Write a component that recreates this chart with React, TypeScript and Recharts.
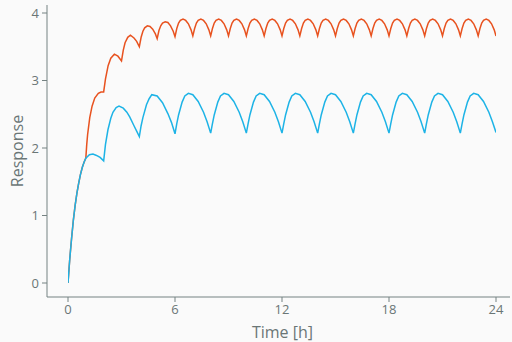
import React from 'react';
import { LineChart, Line, XAxis, YAxis } from 'recharts';

// Time ticks (hours) and response ticks
const timeTicks = [0, 6, 12, 18, 24];
const responseTicks = [0, 1, 2, 3, 4];

// Series dosed every hour (orange): [time h, response]
const hourlyDose: [number, number][] = [
  [0, 0], [0.1, 0.36], [0.2, 0.66], [0.3, 0.93], [0.4, 1.15], [0.5, 1.33], [0.6, 1.48], [0.7, 1.61], [0.8, 1.71], [0.9, 1.79], [1.0, 1.85],
  [1.05, 2.05], [1.1, 2.2], [1.22, 2.45], [1.35, 2.62], [1.5, 2.74], [1.7, 2.81], [1.85, 2.83], [2.0, 2.83],
  [2.1, 3.02], [2.25, 3.22], [2.4, 3.33], [2.6, 3.39], [2.8, 3.36], [3.0, 3.29],
  [3.1, 3.45], [3.2, 3.56], [3.35, 3.64], [3.5, 3.67], [3.7, 3.63], [3.85, 3.58], [4.0, 3.5],
  [4.1, 3.64], [4.2, 3.73], [4.3, 3.78], [4.45, 3.81], [4.6, 3.8], [4.75, 3.76], [4.9, 3.69], [5.0, 3.62],
  [5.1, 3.74], [5.2, 3.81], [5.3, 3.85], [5.45, 3.87], [5.6, 3.86], [5.75, 3.81], [5.9, 3.73], [6.0, 3.65],
  [6.1, 3.77], [6.2, 3.85], [6.3, 3.89], [6.45, 3.91], [6.6, 3.89], [6.75, 3.84], [6.9, 3.75], [7.0, 3.66],
  [7.1, 3.77], [7.2, 3.85], [7.3, 3.89], [7.45, 3.91], [7.6, 3.89], [7.75, 3.84], [7.9, 3.75], [8.0, 3.66],
  [8.1, 3.77], [8.2, 3.85], [8.3, 3.89], [8.45, 3.91], [8.6, 3.89], [8.75, 3.84], [8.9, 3.75], [9.0, 3.66],
  [9.1, 3.77], [9.2, 3.85], [9.3, 3.89], [9.45, 3.91], [9.6, 3.89], [9.75, 3.84], [9.9, 3.75], [10.0, 3.66],
  [10.1, 3.77], [10.2, 3.85], [10.3, 3.89], [10.45, 3.91], [10.6, 3.89], [10.75, 3.84], [10.9, 3.75], [11.0, 3.66],
  [11.1, 3.77], [11.2, 3.85], [11.3, 3.89], [11.45, 3.91], [11.6, 3.89], [11.75, 3.84], [11.9, 3.75], [12.0, 3.66],
  [12.1, 3.77], [12.2, 3.85], [12.3, 3.89], [12.45, 3.91], [12.6, 3.89], [12.75, 3.84], [12.9, 3.75], [13.0, 3.66],
  [13.1, 3.77], [13.2, 3.85], [13.3, 3.89], [13.45, 3.91], [13.6, 3.89], [13.75, 3.84], [13.9, 3.75], [14.0, 3.66],
  [14.1, 3.77], [14.2, 3.85], [14.3, 3.89], [14.45, 3.91], [14.6, 3.89], [14.75, 3.84], [14.9, 3.75], [15.0, 3.66],
  [15.1, 3.77], [15.2, 3.85], [15.3, 3.89], [15.45, 3.91], [15.6, 3.89], [15.75, 3.84], [15.9, 3.75], [16.0, 3.66],
  [16.1, 3.77], [16.2, 3.85], [16.3, 3.89], [16.45, 3.91], [16.6, 3.89], [16.75, 3.84], [16.9, 3.75], [17.0, 3.66],
  [17.1, 3.77], [17.2, 3.85], [17.3, 3.89], [17.45, 3.91], [17.6, 3.89], [17.75, 3.84], [17.9, 3.75], [18.0, 3.66],
  [18.1, 3.77], [18.2, 3.85], [18.3, 3.89], [18.45, 3.91], [18.6, 3.89], [18.75, 3.84], [18.9, 3.75], [19.0, 3.66],
  [19.1, 3.77], [19.2, 3.85], [19.3, 3.89], [19.45, 3.91], [19.6, 3.89], [19.75, 3.84], [19.9, 3.75], [20.0, 3.66],
  [20.1, 3.77], [20.2, 3.85], [20.3, 3.89], [20.45, 3.91], [20.6, 3.89], [20.75, 3.84], [20.9, 3.75], [21.0, 3.66],
  [21.1, 3.77], [21.2, 3.85], [21.3, 3.89], [21.45, 3.91], [21.6, 3.89], [21.75, 3.84], [21.9, 3.75], [22.0, 3.66],
  [22.1, 3.77], [22.2, 3.85], [22.3, 3.89], [22.45, 3.91], [22.6, 3.89], [22.75, 3.84], [22.9, 3.75], [23.0, 3.66],
  [23.1, 3.77], [23.2, 3.85], [23.3, 3.89], [23.45, 3.91], [23.6, 3.89], [23.75, 3.84], [23.9, 3.75], [24.0, 3.66],
];

// Series dosed every two hours (blue): [time h, response]
const twoHourlyDose: [number, number][] = [
  [0, 0], [0.1, 0.36], [0.2, 0.66], [0.3, 0.93], [0.4, 1.15], [0.5, 1.33], [0.6, 1.48], [0.7, 1.61], [0.8, 1.71], [0.9, 1.79], [1.0, 1.85],
  [1.2, 1.9], [1.4, 1.91], [1.6, 1.89], [1.8, 1.86], [2.0, 1.81],
  [2.1, 2.05], [2.24, 2.27], [2.4, 2.44], [2.52, 2.53], [2.7, 2.6], [2.86, 2.62], [3.1, 2.59], [3.3, 2.53], [3.46, 2.46], [3.7, 2.33], [3.85, 2.25], [4.0, 2.17],
  [4.1, 2.33], [4.2, 2.45], [4.4, 2.64], [4.55, 2.73], [4.7, 2.79], [5.0, 2.77], [5.3, 2.67], [5.6, 2.51], [5.8, 2.38], [6.0, 2.21],
  [6.1, 2.36], [6.2, 2.49], [6.4, 2.68], [6.55, 2.77], [6.75, 2.81], [7.0, 2.79], [7.3, 2.69], [7.6, 2.53], [7.8, 2.39], [8.0, 2.22],
  [8.1, 2.36], [8.2, 2.49], [8.4, 2.68], [8.55, 2.77], [8.75, 2.81], [9.0, 2.79], [9.3, 2.69], [9.6, 2.53], [9.8, 2.39], [10.0, 2.22],
  [10.1, 2.36], [10.2, 2.49], [10.4, 2.68], [10.55, 2.77], [10.75, 2.81], [11.0, 2.79], [11.3, 2.69], [11.6, 2.53], [11.8, 2.39], [12.0, 2.22],
  [12.1, 2.36], [12.2, 2.49], [12.4, 2.68], [12.55, 2.77], [12.75, 2.81], [13.0, 2.79], [13.3, 2.69], [13.6, 2.53], [13.8, 2.39], [14.0, 2.22],
  [14.1, 2.36], [14.2, 2.49], [14.4, 2.68], [14.55, 2.77], [14.75, 2.81], [15.0, 2.79], [15.3, 2.69], [15.6, 2.53], [15.8, 2.39], [16.0, 2.22],
  [16.1, 2.36], [16.2, 2.49], [16.4, 2.68], [16.55, 2.77], [16.75, 2.81], [17.0, 2.79], [17.3, 2.69], [17.6, 2.53], [17.8, 2.39], [18.0, 2.22],
  [18.1, 2.36], [18.2, 2.49], [18.4, 2.68], [18.55, 2.77], [18.75, 2.81], [19.0, 2.79], [19.3, 2.69], [19.6, 2.53], [19.8, 2.39], [20.0, 2.22],
  [20.1, 2.36], [20.2, 2.49], [20.4, 2.68], [20.55, 2.77], [20.75, 2.81], [21.0, 2.79], [21.3, 2.69], [21.6, 2.53], [21.8, 2.39], [22.0, 2.22],
  [22.1, 2.36], [22.2, 2.49], [22.4, 2.68], [22.55, 2.77], [22.75, 2.81], [23.0, 2.79], [23.3, 2.69], [23.6, 2.53], [23.8, 2.39], [24.0, 2.23],
];

const hourlyData = hourlyDose.map(([t, v]) => ({ t, v }));
const twoHourlyData = twoHourlyDose.map(([t, v]) => ({ t, v }));

const FONT = '"Open Sans", "DejaVu Sans", sans-serif';
const AXIS = '#758282';
const TEXT = '#6a7676';

export default function App() {
  return (
    <div style={{ position: 'absolute', left: 0, top: 0, width: 512, height: 342, background: '#fafafa', fontFamily: FONT }}>
      <LineChart width={512} height={342} margin={{ top: 5, right: 2, bottom: 0, left: 0 }}>
        <XAxis
          type="number"
          dataKey="t"
          domain={[0, 24]}
          ticks={timeTicks}
          allowDataOverflow
          padding={{ left: 21, right: 14 }}
          height={45}
          stroke={AXIS}
          tickSize={5}
          tickMargin={3}
          tick={{ fill: TEXT, fontSize: 13, fontFamily: FONT }}
          label={{ value: 'Time [h]', position: 'insideBottom', offset: 4, dx: 4, style: { fill: TEXT, fontSize: 16, fontFamily: FONT } }}
        />
        <YAxis
          type="number"
          domain={[0, 4]}
          ticks={responseTicks}
          allowDataOverflow
          padding={{ top: 8, bottom: 14 }}
          width={47}
          stroke={AXIS}
          tickSize={5}
          tickMargin={3}
          tick={{ fill: TEXT, fontSize: 13, fontFamily: FONT }}
          label={{ value: 'Response', angle: -90, position: 'insideLeft', offset: 17, style: { fill: TEXT, fontSize: 16, fontFamily: FONT, textAnchor: 'middle' } }}
        />
        <Line data={hourlyData} dataKey="v" type="linear" dot={false} stroke="#e8521f" strokeWidth={1.5} isAnimationActive={false} />
        <Line data={twoHourlyData} dataKey="v" type="linear" dot={false} stroke="#1db3e6" strokeWidth={1.5} isAnimationActive={false} />
      </LineChart>
    </div>
  );
}
